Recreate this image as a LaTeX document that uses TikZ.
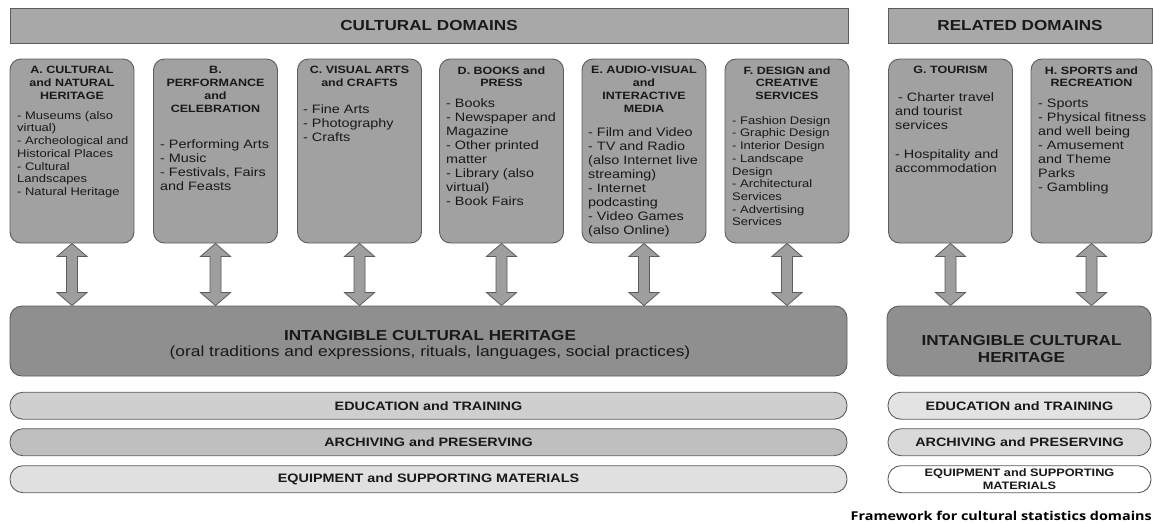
\documentclass[tikz,border=0pt]{standalone}
\usepackage{fontspec}
\setmainfont{Liberation Sans}[FakeStretch=1.18]
\newfontfamily\captionfont{Open Sans}[FakeStretch=1.18]
\usetikzlibrary{calc}

\definecolor{edge}{gray}{0.36}
\definecolor{ink}{gray}{0.1}
\definecolor{headfill}{gray}{0.66}
\definecolor{domfill}{gray}{0.63}
\definecolor{ichfill}{gray}{0.56}
\definecolor{arrfill}{gray}{0.62}
\definecolor{edufill}{gray}{0.81}
\definecolor{arcfill}{gray}{0.75}
\definecolor{eqpfill}{gray}{0.88}
\definecolor{eduright}{gray}{0.89}
\definecolor{arcright}{gray}{0.85}

\newcommand\fsz[2]{\fontsize{#1}{#2}\selectfont}
% two-headed block arrow from the bottom of a domain box down to an ICH box
\newcommand\linkarrow[2]{%
  \draw[link] let \p1=(#1.south), \p2=(#1.south |- #2.north) in
    (\x1,\y1) -- (\x1+15pt,\y1-13pt) -- (\x1+5.5pt,\y1-13pt)
    -- (\x1+5.5pt,\y2+13pt) -- (\x1+15pt,\y2+13pt) -- (\x1,\y2)
    -- (\x1-15pt,\y2+13pt) -- (\x1-5.5pt,\y2+13pt)
    -- (\x1-5.5pt,\y1-13pt) -- (\x1-15pt,\y1-13pt) -- cycle;}

\begin{document}
\begin{tikzpicture}[x=1pt,y=-1pt,
  every node/.style={text=ink, inner sep=0pt},
  headbox/.style={draw=edge, fill=headfill, line width=0.9pt, minimum height=35pt,
    font=\fsz{14.5}{17}\bfseries},
  dombox/.style={draw=edge, fill=domfill, line width=0.9pt, rounded corners=11pt,
    minimum width=124pt, minimum height=184pt},
  domtitle/.style={anchor=north, align=center, font=\fsz{10.6}{12.8}\bfseries},
  domitems/.style={anchor=north west, align=left, font=\fsz{12.2}{14}},
  domitemssmall/.style={anchor=north west, align=left, font=\fsz{11}{12.7}},
  ichbox/.style={draw=edge, fill=ichfill, line width=0.9pt, rounded corners=12pt,
    minimum height=70pt},
  ichtitle/.style={align=center, font=\fsz{14.5}{17}\bfseries},
  band/.style={draw=edge, line width=0.9pt, rounded corners=13pt, minimum height=27pt,
    font=\fsz{12.2}{14}\bfseries},
  link/.style={draw=edge, fill=arrfill, line width=0.8pt, line join=miter}
]
\useasboundingbox (0,0) rectangle (1153,523);

% headers
\node[headbox, minimum width=838pt] (cultural) at (429,25.5) {CULTURAL DOMAINS};
\node[headbox, minimum width=264pt] (related) at (1020,25.5) {RELATED DOMAINS};

% domain boxes
\node[dombox] (bA) at (72,151) {};
\node[dombox] (bB) at (215.5,151) {};
\node[dombox] (bC) at (359.5,151) {};
\node[dombox] (bD) at (501.5,151) {};
\node[dombox] (bE) at (644,151) {};
\node[dombox] (bF) at (787,151) {};
\node[dombox] (bG) at (950.5,151) {};
\node[dombox, minimum width=121pt] (bH) at (1091.5,151) {};

% domain titles
\node[domtitle] (tA) at (72,66.2) {A. CULTURAL\\and NATURAL\\HERITAGE};
\node[domtitle] (tB) at (215.5,66.2) {B.\\PERFORMANCE\\and\\CELEBRATION};
\node[domtitle] (tC) at (359.5,66.2) {C. VISUAL ARTS\\and CRAFTS};
\node[domtitle] (tD) at (501.5,66.2) {D. BOOKS and\\PRESS};
\node[domtitle] (tE) at (644,66.2) {E. AUDIO-VISUAL\\and\\INTERACTIVE\\MEDIA};
\node[domtitle] (tF) at (787,66.2) {F. DESIGN and\\CREATIVE\\SERVICES};
\node[domtitle] (tG) at (950.5,66.2) {G. TOURISM};
\node[domtitle] (tH) at (1091.5,66.2) {H. SPORTS and\\RECREATION};

% domain contents
\node[domitemssmall] (iA) at (17,111.1) {- Museums (also\\virtual)\\- Archeological and\\Historical Places\\- Cultural\\Landscapes\\- Natural Heritage};
\node[domitems] (iB) at (160,139.6) {- Performing Arts\\- Music\\- Festivals, Fairs\\and Feasts};
\node[domitems] (iC) at (303,104.6) {- Fine Arts\\- Photography\\- Crafts};
\node[domitems] (iD) at (446,98.6) {- Books\\- Newspaper and\\Magazine\\- Other printed\\matter\\- Library (also\\virtual)\\- Book Fairs};
\node[domitems] (iE) at (588,127.6) {- Film and Video\\- TV and Radio\\(also Internet live\\streaming)\\- Internet\\podcasting\\- Video Games\\(also Online)};
\node[domitemssmall] (iF) at (732,116.1) {- Fashion Design\\- Graphic Design\\- Interior Design\\- Landscape\\Design\\- Architectural\\Services\\- Advertising\\Services};
\node[domitems] (iG) at (895,92.6) {\hspace{3pt}- Charter travel\\and tourist\\services\\[15pt]- Hospitality and\\accommodation};
\node[domitems] (iH) at (1038,98.6) {- Sports\\- Physical fitness\\and well being\\- Amusement\\and Theme\\Parks\\- Gambling};

% intangible cultural heritage
\node[ichbox, minimum width=837pt] (ichL) at (428.5,341) {};
\node[ichtitle] (ichLt) at (430,335) {INTANGIBLE CULTURAL HERITAGE};
\node[font=\fsz{14.7}{17}] (ichLs) at (430,353) {(oral traditions and expressions, rituals, languages, social practices)};
\node[ichbox, minimum width=264pt] (ichR) at (1019,341) {};
\node[ichtitle] (ichRt) at (1021.5,348.5) {INTANGIBLE CULTURAL\\HERITAGE};

% links between domains and heritage
\linkarrow{bA}{ichL}
\linkarrow{bB}{ichL}
\linkarrow{bC}{ichL}
\linkarrow{bD}{ichL}
\linkarrow{bE}{ichL}
\linkarrow{bF}{ichL}
\linkarrow{bG}{ichR}
\linkarrow{bH}{ichR}

% transversal bands
\node[band, fill=edufill, minimum width=837pt] (eduL) at (428.5,405.7) {EDUCATION and TRAINING};
\node[band, fill=arcfill, minimum width=837pt] (arcL) at (428.5,442.2) {ARCHIVING and PRESERVING};
\node[band, fill=eqpfill, minimum width=837pt] (eqpL) at (428.5,479.2) {EQUIPMENT and SUPPORTING MATERIALS};
\node[band, fill=eduright, minimum width=263pt] (eduR) at (1019.5,405.7) {EDUCATION and TRAINING};
\node[band, fill=arcright, minimum width=263pt] (arcR) at (1019.5,442.2) {ARCHIVING and PRESERVING};
\node[band, fill=white, minimum width=263pt, align=center, font=\fsz{10.8}{12.6}\bfseries] (eqpR) at (1019.5,479.2) {EQUIPMENT and SUPPORTING\\MATERIALS};

% caption
\node[anchor=base east, font=\captionfont\fsz{12.2}{14}\bfseries, text=black] (caption) at (1152,520.5) {Framework for cultural statistics domains};
\end{tikzpicture}
\end{document}
